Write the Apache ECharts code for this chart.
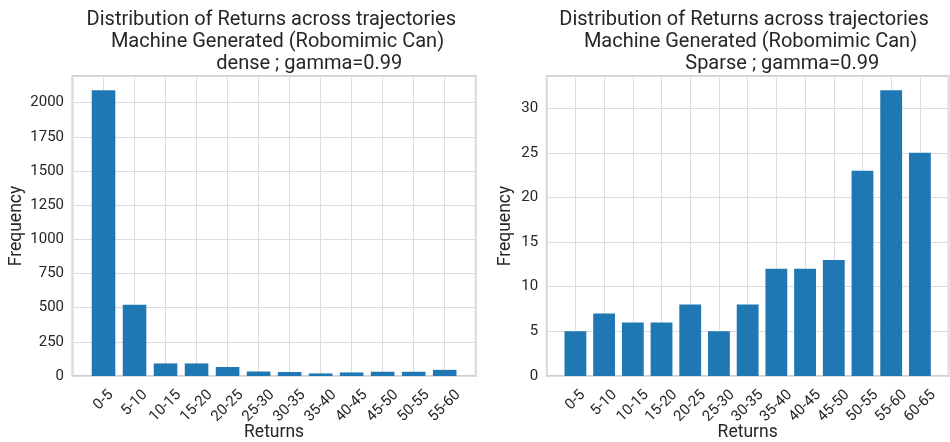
<!DOCTYPE html>
<html>
<head>
<meta charset="utf-8">
<script src="https://cdn.jsdelivr.net/npm/echarts@6/dist/echarts.min.js"></script>
<style>
  html, body { margin: 0; padding: 0; background: #ffffff; }
  #chart { width: 950px; height: 442px; }
</style>
</head>
<body>
<div id="chart"></div>
<script>
// Return bins and trajectory counts for the two reward settings
const denseLabels = ['0-5', '5-10', '10-15', '15-20', '20-25', '25-30', '30-35', '35-40', '40-45', '45-50', '50-55', '55-60'];
const denseCounts = [2090, 522, 92, 92, 66, 33, 29, 19, 26, 31, 31, 45];

const sparseLabels = ['0-5', '5-10', '10-15', '15-20', '20-25', '25-30', '30-35', '35-40', '40-45', '45-50', '50-55', '55-60', '60-65'];
const sparseCounts = [5, 7, 6, 6, 8, 5, 8, 12, 12, 13, 23, 32, 25];

const denseTicksInterval = 250;
const sparseTicksInterval = 5;

const titleLine1 = 'Distribution of Returns across trajectories';
const titleLine2 = 'Machine Generated (Robomimic Can)';
const denseLine3 = 'dense ; gamma=0.99';
const sparseLine3 = 'Sparse ; gamma=0.99';

const TEXT = '#262626';
const FONT = 'Roboto';
const BAR = '#1f77b4';

// Rotated labels are centred under their tick; shorter labels get a little
// padding so their box sits higher, the way rotated tick text normally does.
const richPad = {};
[3, 4, 5, 6].forEach(n => {
  const p = Math.max(0, (5 - n) * 4.2);
  richPad['n' + n] = { fontFamily: FONT, fontSize: 15, color: TEXT, padding: [0, 0, p, p] };
});

function xLabel(labels) {
  return function (v) {
    const i = Math.round(v);
    if (Math.abs(v - i) > 1e-6 || i < 0 || i >= labels.length) return '';
    const t = labels[i];
    return '{n' + Math.min(6, t.length) + '|' + t + '}';
  };
}

function pairs(values) {
  return values.map((v, i) => [i, v]);
}

const grids = [
  { left: 72.5, right: 950 - 475.7, top: 76, bottom: 442 - 376 },
  { left: 546.7, right: 950 - 948.6, top: 76, bottom: 442 - 376 }
];

function makeX(gridIndex, labels) {
  return {
    type: 'value',
    gridIndex: gridIndex,
    min: -1,
    max: labels.length,
    interval: 1,
    name: 'Returns',
    nameLocation: 'middle',
    nameGap: 48,
    nameMoveOverlap: false,
    nameTextStyle: { fontFamily: FONT, fontSize: 17.5, color: TEXT },
    axisLine: { show: false },
    axisTick: { show: false },
    splitLine: { show: true, lineStyle: { color: '#dcdcdc', width: 1 } },
    axisLabel: {
      rotate: 45,
      align: 'center',
      verticalAlign: 'middle',
      margin: 30,
      showMinLabel: false,
      showMaxLabel: false,
      hideOverlap: false,
      interval: 0,
      formatter: xLabel(labels),
      rich: richPad,
      fontFamily: FONT,
      fontSize: 15,
      color: TEXT
    }
  };
}

function makeY(gridIndex, values, interval, gap) {
  return {
    type: 'value',
    gridIndex: gridIndex,
    min: 0,
    max: Math.max.apply(null, values) * 1.05,
    interval: interval,
    name: 'Frequency',
    nameLocation: 'middle',
    nameRotate: 90,
    nameGap: gap,
    nameTextStyle: { fontFamily: FONT, fontSize: 17.5, color: TEXT },
    axisLine: { show: false },
    axisTick: { show: false },
    splitLine: { show: true, lineStyle: { color: '#dcdcdc', width: 1 } },
    axisLabel: {
      showMaxLabel: false,
      margin: 8.5,
      formatter: v => String(v),
      fontFamily: FONT,
      fontSize: 15,
      color: TEXT
    }
  };
}

function titleLine(text, x, y) {
  return {
    text: text,
    left: x,
    top: y,
    textAlign: 'center',
    padding: 0,
    textStyle: { fontFamily: FONT, fontSize: 20, fontWeight: 'normal', color: TEXT, lineHeight: 22 }
  };
}

const chart = echarts.init(document.getElementById('chart'), null, { renderer: 'canvas' });

chart.setOption({
  backgroundColor: '#ffffff',
  animation: false,
  title: [
    titleLine(titleLine1, 271.3, 9),
    titleLine(titleLine2, 277.5, 31),
    titleLine(denseLine3, 309.3, 53),
    titleLine(titleLine1, 744, 9),
    titleLine(titleLine2, 750.5, 31),
    titleLine(sparseLine3, 782.2, 53)
  ],
  grid: grids.map(g => Object.assign({
    show: true,
    backgroundColor: '#ffffff',
    borderColor: '#d0d0d0',
    borderWidth: 2,
    containLabel: false,
    outerBoundsMode: 'none'
  }, g)),
  xAxis: [makeX(0, denseLabels), makeX(1, sparseLabels)],
  yAxis: [
    makeY(0, denseCounts, denseTicksInterval, 47),
    makeY(1, sparseCounts, sparseTicksInterval, 32)
  ],
  series: [
    {
      type: 'bar',
      xAxisIndex: 0,
      yAxisIndex: 0,
      data: pairs(denseCounts),
      barWidth: '76%',
      itemStyle: { color: BAR }
    },
    {
      type: 'bar',
      xAxisIndex: 1,
      yAxisIndex: 1,
      data: pairs(sparseCounts),
      barWidth: '76%',
      itemStyle: { color: BAR }
    }
  ]
});
</script>
</body>
</html>
